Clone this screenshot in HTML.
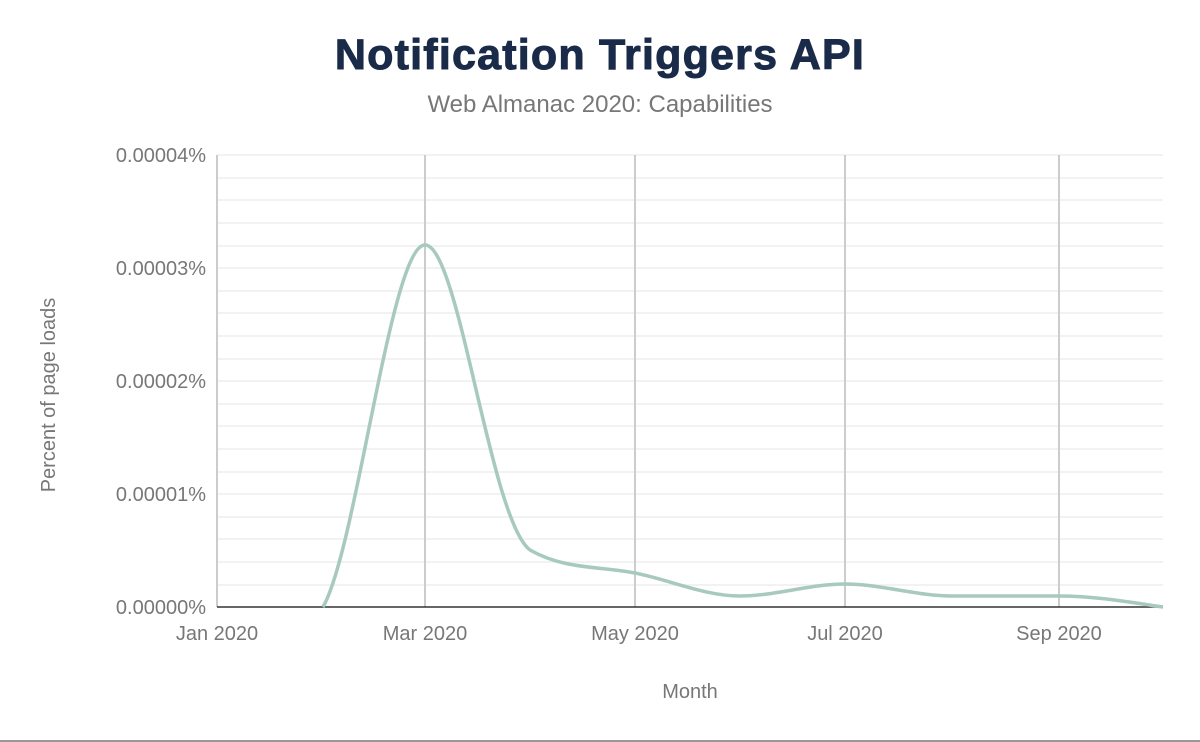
<!DOCTYPE html>
<html><head><meta charset="utf-8"><style>
html,body{margin:0;padding:0;background:#fff;}
svg{display:block;font-family:"Liberation Sans",sans-serif;}
</style></head><body>
<svg width="1200" height="742" viewBox="0 0 1200 742">
<rect width="1200" height="742" fill="#fff"/>
<text x="600" y="69" text-anchor="middle" font-size="43" font-weight="bold" letter-spacing="1.2" fill="#1a2b49" stroke="#1a2b49" stroke-width="1">Notification Triggers API</text>
<text x="600" y="112" text-anchor="middle" font-size="24" fill="#777">Web Almanac 2020: Capabilities</text>
<g stroke="#f2f2f2" stroke-width="2">
<line x1="217" x2="1163" y1="155" y2="155"/><line x1="217" x2="1163" y1="178" y2="178"/><line x1="217" x2="1163" y1="200" y2="200"/><line x1="217" x2="1163" y1="223" y2="223"/><line x1="217" x2="1163" y1="246" y2="246"/><line x1="217" x2="1163" y1="268" y2="268"/><line x1="217" x2="1163" y1="291" y2="291"/><line x1="217" x2="1163" y1="313" y2="313"/><line x1="217" x2="1163" y1="336" y2="336"/><line x1="217" x2="1163" y1="359" y2="359"/><line x1="217" x2="1163" y1="381" y2="381"/><line x1="217" x2="1163" y1="404" y2="404"/><line x1="217" x2="1163" y1="426" y2="426"/><line x1="217" x2="1163" y1="449" y2="449"/><line x1="217" x2="1163" y1="472" y2="472"/><line x1="217" x2="1163" y1="494" y2="494"/><line x1="217" x2="1163" y1="517" y2="517"/><line x1="217" x2="1163" y1="539" y2="539"/><line x1="217" x2="1163" y1="562" y2="562"/><line x1="217" x2="1163" y1="585" y2="585"/>
</g>
<g stroke="#ccc" stroke-width="2">
<line x1="217" x2="217" y1="155" y2="607"/><line x1="425" x2="425" y1="155" y2="607"/><line x1="635" x2="635" y1="155" y2="607"/><line x1="845" x2="845" y1="155" y2="607"/><line x1="1059" x2="1059" y1="155" y2="607"/>
</g>
<line x1="217" x2="1163" y1="607" y2="607" stroke="#333" stroke-width="1.5"/>
<path d="M323,607 C357,547 391,245 425,245 C459,245 490,520 530,550 C565,570 600,566 635,573 C670,580 705,596 740,596 C775,596 810,584 845,584 C880,584 917,596 952,596 C987,596 1024,596 1059,596 C1094,596 1128,602 1163,607" fill="none" stroke="#a8c9bd" stroke-width="3.5"/>
<g font-size="20" fill="#777" text-anchor="end">
<text x="206" y="162">0.00004%</text><text x="206" y="275">0.00003%</text><text x="206" y="388">0.00002%</text><text x="206" y="501">0.00001%</text><text x="206" y="614">0.00000%</text>
</g>
<g font-size="20" fill="#777" text-anchor="middle">
<text x="217" y="640">Jan 2020</text><text x="425" y="640">Mar 2020</text><text x="635" y="640">May 2020</text><text x="845" y="640">Jul 2020</text><text x="1059" y="640">Sep 2020</text>
<text x="690" y="698">Month</text>
<text transform="translate(55,395) rotate(-90)">Percent of page loads</text>
</g>
<line x1="0" x2="1200" y1="741" y2="741" stroke="#999" stroke-width="2"/>
</svg>
</body></html>
